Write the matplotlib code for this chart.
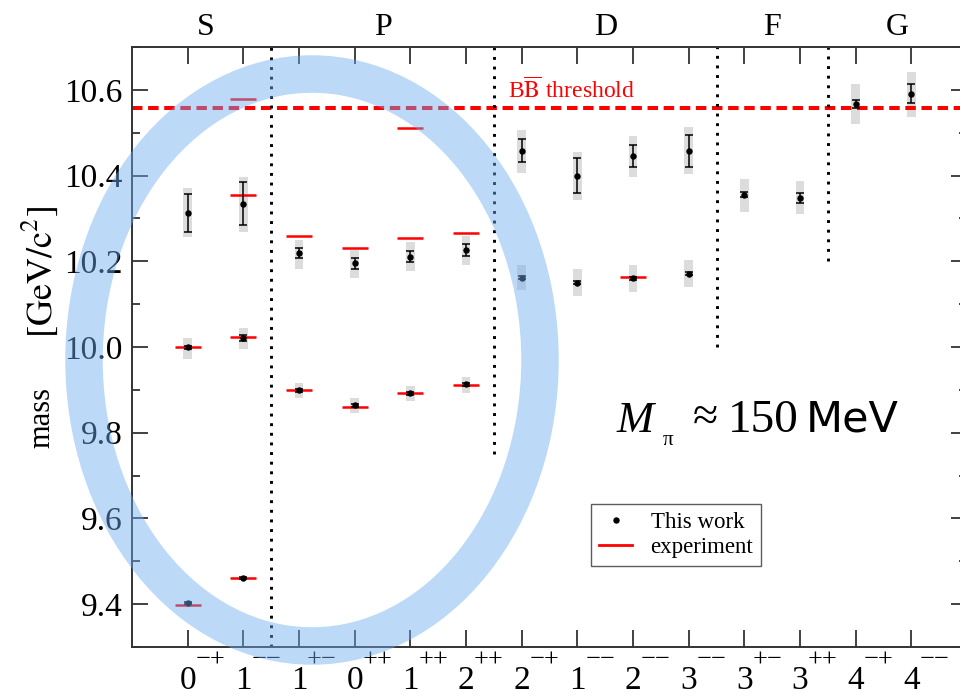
import numpy as np
import matplotlib
matplotlib.use("Agg")
import matplotlib.pyplot as plt
from matplotlib.patches import Ellipse
from matplotlib.lines import Line2D
from matplotlib.transforms import blended_transform_factory

plt.rcParams['font.family'] = ['Liberation Serif', 'DejaVu Serif']
plt.rcParams['mathtext.fontset'] = 'stix'

# quantum numbers J^PC along the x axis
spins = ['0', '1', '1', '0', '1', '2', '2', '1', '2', '3', '3', '3', '4', '4']
parities = ['\u2212+', '\u2212\u2212', '+\u2212', '++', '++', '++', '\u2212+',
            '\u2212\u2212', '\u2212\u2212', '\u2212\u2212', '+\u2212', '++', '\u2212+', '\u2212\u2212']
waves = ['S', 'P', 'D', 'F', 'G']
wave_x = [1.32, 4.5, 8.5, 11.5, 13.75]
dividers = [2.5, 6.5, 10.5, 12.5]
divider_bottom = [9.3, 9.75, 10.0, 10.2]

# lattice results: channel, mass, stat. error, systematic band
lat_x = [1, 1, 1, 2, 2, 2, 3, 3, 4, 4, 5, 5, 6, 6, 7, 7, 8, 8, 9, 9, 10, 10, 11, 12, 13, 14]
lat_m = [9.402, 9.999, 10.313, 9.461, 10.022, 10.334, 9.899, 10.220, 9.864, 10.195,
         9.892, 10.211, 9.913, 10.227, 10.162, 10.458, 10.150, 10.400, 10.160, 10.446,
         10.171, 10.458, 10.355, 10.348, 10.567, 10.591]
lat_err = [0.002, 0.004, 0.045, 0.002, 0.007, 0.050, 0.003, 0.012, 0.004, 0.012,
           0.003, 0.013, 0.003, 0.014, 0.003, 0.027, 0.003, 0.040, 0.003, 0.026,
           0.003, 0.037, 0.006, 0.012, 0.009, 0.022]
sys_lo = [9.402, 9.973, 10.257, 9.461, 9.996, 10.269, 9.880, 10.183, 9.845, 10.160,
          9.873, 10.178, 9.892, 10.192, 10.132, 10.407, 10.120, 10.344, 10.129, 10.397,
          10.141, 10.404, 10.316, 10.311, 10.521, 10.537]
sys_hi = [9.402, 10.022, 10.372, 9.461, 10.045, 10.397, 9.917, 10.250, 9.880, 10.227,
          9.910, 10.246, 9.931, 10.260, 10.192, 10.507, 10.181, 10.455, 10.192, 10.493,
          10.202, 10.514, 10.393, 10.388, 10.614, 10.642]

# experimental masses
exp_x = [1, 1, 2, 2, 2, 2, 3, 3, 4, 4, 5, 5, 5, 6, 6, 9]
exp_m = [9.399, 9.999, 9.460, 10.023, 10.355, 10.579, 9.899, 10.260, 9.859, 10.232,
         9.893, 10.255, 10.512, 9.912, 10.267, 10.163]

bb_threshold = 10.558

W, H = 960, 696
fig = plt.figure(figsize=(W / 100, H / 100), dpi=100)
ax = fig.add_axes([132 / W, (H - 647) / H, 835 / W, 600 / H])

ax.bar(lat_x, np.array(sys_hi) - np.array(sys_lo), bottom=sys_lo, width=0.16,
       color='#dcdcdc', zorder=1)
ax.hlines(exp_m, np.array(exp_x) - 0.235, np.array(exp_x) + 0.235,
          color='red', lw=1.8, zorder=2)
ax.errorbar(lat_x, lat_m, yerr=lat_err, fmt='o', color='black', ms=3.6,
            elinewidth=1.1, capsize=3.2, capthick=1.1, zorder=3)

ax.axhline(bb_threshold, color='red', lw=2.9, dashes=(2.6, 1.4), zorder=2)
ax.text(6.75, bb_threshold + 0.012, r'B$\overline{\rm B}$ threshold', color='red',
        fontsize=17, ha='left', va='bottom')

for xd, yb in zip(dividers, divider_bottom):
    ax.plot([xd, xd], [yb, 10.7], color='black', lw=2.1, linestyle=(0, (1, 2.3)), zorder=2)

ax.set_xlim(0, 15)
ax.set_ylim(9.3, 10.7)
ax.set_xticks(np.arange(1, len(spins) + 1))
ax.set_xticklabels(spins, fontsize=24)
ax.set_yticks(np.arange(9.4, 10.61, 0.2))
ax.set_yticklabels(['%.1f' % v for v in np.arange(9.4, 10.61, 0.2)], fontsize=24)
ax.set_yticks(np.arange(9.3, 10.71, 0.1), minor=True)
ax.tick_params(axis='x', which='major', direction='in', top=True, length=12, width=1.3,
               pad=13, color='#333333')
ax.tick_params(axis='y', which='major', direction='in', right=True, length=11.5, width=1.3,
               pad=6.5, color='#333333')
ax.tick_params(axis='y', which='minor', direction='in', right=True, length=6, width=1.3,
               color='#333333')
for s in ax.spines.values():
    s.set_linewidth(1.4)
    s.set_color('#333333')

tr = blended_transform_factory(ax.transData, ax.transAxes)
for i, p in enumerate(parities):
    ax.text(i + 1 + 0.41, -0.0217, p, transform=tr, fontsize=19, ha='center', va='center')
for wx, w in zip(wave_x, waves):
    ax.text(wx, 1.032, w, transform=tr, fontsize=23, ha='center', va='center')

# axis title: plain word plus larger bracketed unit
fig.text(42 / W, 1 - 417 / H, 'mass', rotation=90, fontsize=22, ha='center', va='center')
fig.text(40 / W, 1 - 272 / H, r'$\left[\mathrm{GeV/c^{2}}\right]$', rotation=90,
         fontsize=26, ha='center', va='center')

handles = [Line2D([], [], color='black', marker='o', ms=3.6, ls='none'),
           Line2D([], [], color='red', lw=2)]
leg = ax.legend(handles, ['This work', 'experiment'], loc='upper left',
                bbox_to_anchor=(591 / W, 1 - 504 / H), bbox_transform=fig.transFigure,
                fontsize=16.5, frameon=True, fancybox=False, borderaxespad=0,
                handlelength=1.45, handletextpad=0.8, labelspacing=0.15, borderpad=0.35)
leg.get_frame().set_edgecolor('#333333')
leg.get_frame().set_linewidth(1.0)

# pion mass annotation
fig.text(617 / W, 1 - 432 / H, 'M', fontsize=32, style='italic', ha='left', va='baseline')
fig.text(663 / W, 1 - 445 / H, '\u03c0', fontsize=15, ha='left', va='baseline')
fig.text(693 / W, 1 - 430 / H, '\u2248', fontsize=33, ha='left', va='baseline')
fig.text(728 / W, 1 - 432 / H, '150', fontsize=34, ha='left', va='baseline')
fig.text(806 / W, 1 - 432 / H, 'MeV', fontsize=31, ha='left', va='baseline',
         family='DejaVu Sans')

# highlight ring over S and P waves
ring = Ellipse((312 / W, 1 - 360 / H), 2 * 228 / W, 2 * 286 / H, fill=False,
               edgecolor=(0.43, 0.67, 0.94), alpha=0.45, lw=27,
               transform=fig.transFigure, zorder=10)
fig.add_artist(ring)

fig.savefig('out.png', dpi=100)
